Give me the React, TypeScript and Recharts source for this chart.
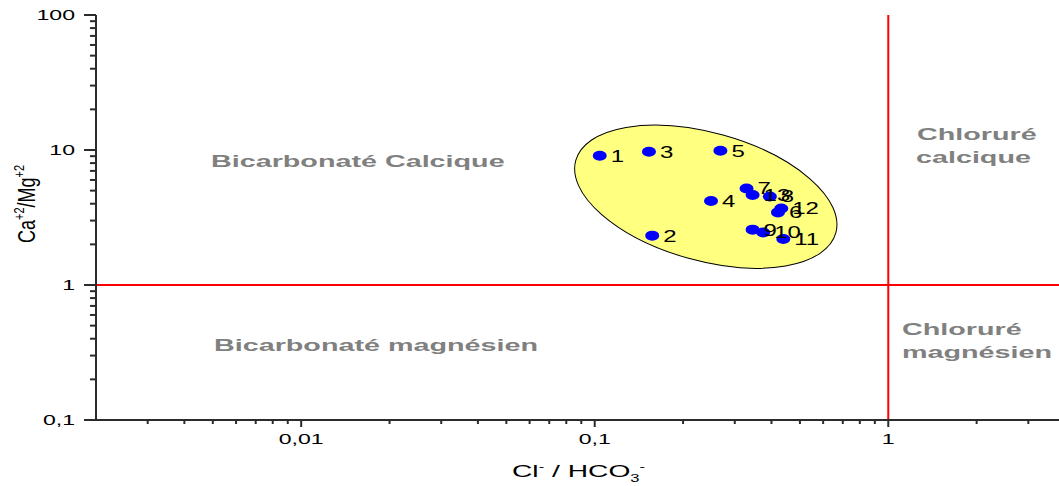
import { ScatterChart, Scatter, XAxis, YAxis, ReferenceLine } from 'recharts';

// Cl-/HCO3- vs Ca2+/Mg2+ ratios, one point per sample
const sampleIds = ['1', '2', '3', '4', '5', '6', '7', '8', '9', '10', '11', '12', '13'];
const clHco3Ratio = [0.104, 0.157, 0.153, 0.249, 0.268, 0.421, 0.329, 0.395, 0.345, 0.375, 0.439, 0.432, 0.345];
const caMgRatio = [9.07, 2.32, 9.71, 4.19, 9.88, 3.45, 5.19, 4.53, 2.57, 2.45, 2.19, 3.69, 4.64];

// centre of the highlighted group
const zoneCenterX = [0.239];
const zoneCenterY = [4.51];

const xMajorTicks = [0.01, 0.1, 1];
const xMinorTicks = [
  0.003, 0.004, 0.005, 0.006, 0.007, 0.008, 0.009,
  0.02, 0.03, 0.04, 0.05, 0.06, 0.07, 0.08, 0.09,
  0.2, 0.3, 0.4, 0.5, 0.6, 0.7, 0.8, 0.9,
  2, 3,
];
const yMajorTicks = [0.1, 1, 10, 100];
const yMinorTicks = [
  0.2, 0.3, 0.4, 0.5, 0.6, 0.7, 0.8, 0.9,
  2, 3, 4, 5, 6, 7, 8, 9,
  20, 30, 40, 50, 60, 70, 80, 90,
];

const points = sampleIds.map((id, i) => ({ id, x: clHco3Ratio[i], y: caMgRatio[i] }));
const zone = zoneCenterX.map((x, i) => ({ x, y: zoneCenterY[i] }));

const xTicks = [...xMajorTicks, ...xMinorTicks].sort((a, b) => a - b);
const yTicks = [...yMajorTicks, ...yMinorTicks].sort((a, b) => a - b);

const FONT = "'Liberation Sans', Arial, sans-serif";
const AXIS = '#2b2b2b';
const SX = 1.65; // the picture is stretched sideways

const fmt = (v: number) => String(v).replace('.', ',');

function BottomTick({ x, y, payload }: any) {
  const major = xMajorTicks.includes(payload.value);
  return (
    <g>
      <line x1={x} x2={x} y1={y} y2={y + (major ? 7 : 4)} stroke={AXIS} strokeWidth={2} />
      {major && (
        <text transform={`translate(${x},${y + 24}) scale(${SX},1)`} textAnchor="middle"
          fontSize={14} fontFamily={FONT} fill="#000">{fmt(payload.value)}</text>
      )}
    </g>
  );
}

function TopTick({ x, y, payload }: any) {
  const major = xMajorTicks.includes(payload.value);
  return <line x1={x} x2={x} y1={y} y2={y + (major ? 7 : 4)} stroke={AXIS} strokeWidth={2} />;
}

function LeftTick({ x, y, payload }: any) {
  const major = yMajorTicks.includes(payload.value);
  return (
    <g>
      <line x1={x} x2={x - (major ? 12 : 6)} y1={y} y2={y} stroke={AXIS} strokeWidth={2} />
      {major && (
        <text transform={`translate(${x - 21},${y + 5}) scale(${SX},1)`} textAnchor="end"
          fontSize={14} fontFamily={FONT} fill="#000">{fmt(payload.value)}</text>
      )}
    </g>
  );
}

function RightTick({ x, y, payload }: any) {
  const major = yMajorTicks.includes(payload.value);
  return <line x1={x} x2={x - (major ? 12 : 6)} y1={y} y2={y} stroke={AXIS} strokeWidth={2} />;
}

function ZoneShape({ cx, cy }: any) {
  return (
    <ellipse cx={cx} cy={cy} rx={135} ry={64} transform={`rotate(15.6 ${cx} ${cy})`}
      fill="#ffff80" stroke="#000" strokeWidth={1} />
  );
}

function DotShape({ cx, cy }: any) {
  return <ellipse cx={cx} cy={cy} rx={7} ry={5} fill="#0000ff" />;
}

function LabelShape({ cx, cy, payload }: any) {
  return (
    <text transform={`translate(${cx + 11},${cy + 6}) scale(1.5,1)`} fontSize={16}
      fontFamily={FONT} fill="#000">{payload.id}</text>
  );
}

const region = { fontSize: 17, fontWeight: 700, fontFamily: FONT, fill: '#808080' };
const RX = 1.69;

export default function App() {
  return (
    <div style={{ position: 'absolute', left: 0, top: 0, width: 1059, height: 486, overflow: 'hidden', background: '#fff' }}>
      <ScatterChart width={1070} height={486} margin={{ top: 15, right: 5, bottom: 0, left: 0 }}>
        <XAxis xAxisId="b" dataKey="x" type="number" scale="log" domain={[0.002, 4]} allowDataOverflow
          ticks={xTicks} interval={0} height={66} tickSize={0} tickMargin={0} tickLine={false}
          axisLine={{ stroke: AXIS, strokeWidth: 2 }} tick={<BottomTick />} />
        <XAxis xAxisId="t" orientation="top" dataKey="x" type="number" scale="log" domain={[0.002, 4]} allowDataOverflow
          ticks={xTicks} interval={0} height={0} tickSize={0} tickMargin={0} tickLine={false}
          axisLine={{ stroke: AXIS, strokeWidth: 2 }} tick={<TopTick />} />
        <YAxis yAxisId="l" dataKey="y" type="number" scale="log" domain={[0.1, 100]} allowDataOverflow
          ticks={yTicks} interval={0} width={96} tickSize={0} tickMargin={0} tickLine={false}
          axisLine={{ stroke: AXIS, strokeWidth: 2 }} tick={<LeftTick />} />
        <YAxis yAxisId="r" orientation="right" dataKey="y" type="number" scale="log" domain={[0.1, 100]} allowDataOverflow
          ticks={yTicks} interval={0} width={0} tickSize={0} tickMargin={0} tickLine={false}
          axisLine={{ stroke: AXIS, strokeWidth: 2 }} tick={<RightTick />} />

        <Scatter xAxisId="b" yAxisId="l" data={zone} shape={<ZoneShape />} isAnimationActive={false} />
        <ReferenceLine xAxisId="b" yAxisId="l" x={1} stroke="#ff0000" strokeWidth={2} />
        <ReferenceLine xAxisId="b" yAxisId="l" y={1} stroke="#ff0000" strokeWidth={2} />
        <Scatter xAxisId="b" yAxisId="l" data={points} shape={<DotShape />} isAnimationActive={false} />
        <Scatter xAxisId="b" yAxisId="l" data={points} shape={<LabelShape />} isAnimationActive={false} />
      </ScatterChart>

      <svg width={1059} height={486} style={{ position: 'absolute', left: 0, top: 0, pointerEvents: 'none' }}>
        <text transform={`translate(211,167) scale(${RX},1)`} {...region}>Bicarbonaté Calcique</text>
        <text transform={`translate(214,351) scale(${RX},1)`} {...region}>Bicarbonaté magnésien</text>
        <text transform={`translate(917,140) scale(${RX},1)`} {...region}>Chloruré</text>
        <text transform={`translate(916,163) scale(${RX},1)`} {...region}>calcique</text>
        <text transform={`translate(902,335) scale(${RX},1)`} {...region}>Chloruré</text>
        <text transform={`translate(902,358) scale(${RX},1)`} {...region}>magnésien</text>

        <text transform="translate(512,477) scale(1.66,1)" fontSize={17} fontFamily={FONT} fill="#000">
          Cl<tspan dy={-7} fontSize={10}>-</tspan>
          <tspan dy={7}> / HCO</tspan>
          <tspan dy={5} fontSize={10}>3</tspan>
          <tspan dy={-12} fontSize={10}>-</tspan>
        </text>

        <text transform="translate(35,243) rotate(-90) scale(1,1.32)" fontSize={18} fontFamily={FONT} fill="#000">
          Ca<tspan dy={-8} fontSize={11}>+2</tspan>
          <tspan dy={8}>/Mg</tspan>
          <tspan dy={-8} fontSize={11}>+2</tspan>
        </text>
      </svg>
    </div>
  );
}
